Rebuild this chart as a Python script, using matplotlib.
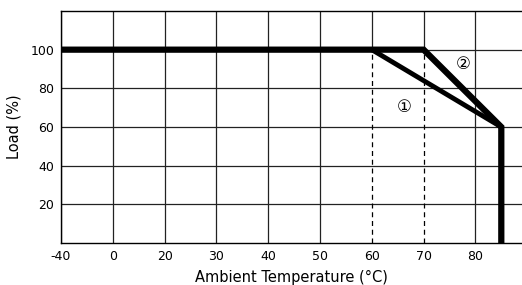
import matplotlib
matplotlib.use("Agg")
import matplotlib.pyplot as plt
import numpy as np

# Data
tick_temps = [-40, 0, 20, 30, 40, 50, 60, 70, 80]
tick_labels = ["-40", "0", "20", "30", "40", "50", "60", "70", "80"]
y_ticks = [20, 40, 60, 80, 100]
curve2_t = [-40, 70, 85, 85]
curve2_load = [100, 100, 60, 0]
curve1_t = [60, 85]
curve1_load = [100, 60]
dashed_t = [60, 70]
label1 = ("①", 66.3, 70.5)
label2 = ("②", 77.6, 92.5)


def tx(t):
    t = np.asarray(t, dtype=float)
    return np.where(t <= 20, np.interp(t, tick_temps[:3], [0, 1, 2]),
                    2 + (t - 20) / 10.0)


fig = plt.figure(figsize=(5.22, 2.85), dpi=100)
ax = fig.add_axes([61 / 522, 1 - 243 / 285, 1 - 61 / 522, (243 - 11) / 285])

YMAX = 120
ax.set_xlim(0, (522 - 61) / 51.8)
ax.set_ylim(0, YMAX)
ax.set_xticks(tx(tick_temps))
ax.set_xticklabels(tick_labels)
ax.set_yticks(y_ticks)
ax.tick_params(length=0, labelsize=9, pad=5)

gc = "#222222"
glw = 0.9
for y in y_ticks:
    ax.axhline(y, color=gc, lw=glw, zorder=1)
for t in tick_temps:
    if t in dashed_t:
        ax.plot([tx(t), tx(t)], [100, YMAX], color=gc, lw=glw, zorder=1)
    else:
        ax.axvline(tx(t), color=gc, lw=glw, zorder=1)

ax.spines["right"].set_visible(False)
for s in ["left", "bottom", "top"]:
    ax.spines[s].set_color("black")
    ax.spines[s].set_linewidth(1.0)

for t in dashed_t:
    ax.plot([tx(t), tx(t)], [0, 100], color="black", lw=0.9,
            linestyle=(0, (4, 3)), zorder=3)

ax.plot(tx(curve2_t), curve2_load, color="black", lw=4.5, zorder=4,
        solid_joinstyle="miter", solid_capstyle="butt")
ax.plot(tx(curve1_t), curve1_load, color="black", lw=3.5, zorder=4,
        solid_joinstyle="miter", solid_capstyle="butt")

for txt, t, l in (label1, label2):
    ax.text(tx(t), l, txt, fontsize=12, ha="center", va="center",
            family=["DejaVu Sans", "Noto Sans CJK SC"], zorder=5)

ax.set_xlabel("Ambient Temperature (°C)", fontsize=10.5, labelpad=5)
ax.set_ylabel("Load (%)", fontsize=10.5, labelpad=6)

fig.savefig("out.png", dpi=100)
